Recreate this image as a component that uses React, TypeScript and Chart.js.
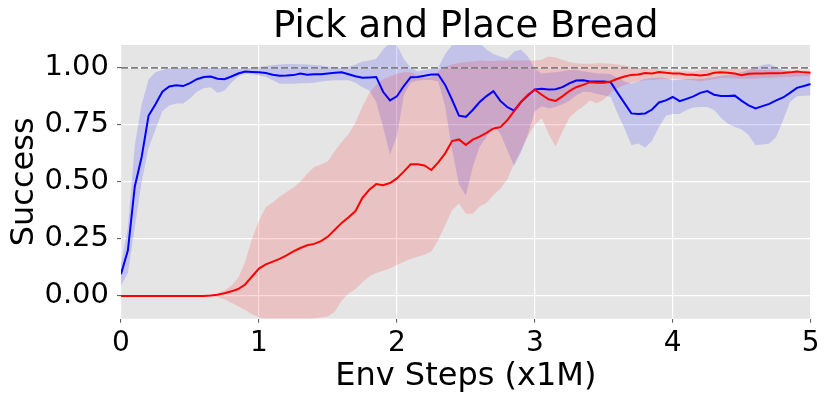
import React, { useEffect, useRef } from 'react';
import { Chart, registerables } from 'chart.js';

Chart.register(...registerables);

const TITLE = 'Pick and Place Bread';
const X_LABEL = 'Env Steps (x1M)';
const Y_LABEL = 'Success';

const X_TICKS = [0, 1, 2, 3, 4, 5];
const Y_TICKS = [0, 0.25, 0.5, 0.75, 1.0];
const TARGET = 1.0;

const STEPS = [
  0, 0.05, 0.1, 0.15, 0.2, 0.25, 0.3, 0.35, 0.4, 0.45,
  0.5, 0.55, 0.6, 0.65, 0.7, 0.75, 0.8, 0.85, 0.9, 0.95,
  1.0, 1.05, 1.1, 1.15, 1.2, 1.25, 1.3, 1.35, 1.4, 1.45,
  1.5, 1.55, 1.6, 1.65, 1.7, 1.75, 1.8, 1.85, 1.9, 1.95,
  2.0, 2.05, 2.1, 2.15, 2.2, 2.25, 2.3, 2.35, 2.4, 2.45,
  2.5, 2.55, 2.6, 2.65, 2.7, 2.75, 2.8, 2.85, 2.9, 2.95,
  3.0, 3.05, 3.1, 3.15, 3.2, 3.25, 3.3, 3.35, 3.4, 3.45,
  3.5, 3.55, 3.6, 3.65, 3.7, 3.75, 3.8, 3.85, 3.9, 3.95,
  4.0, 4.05, 4.1, 4.15, 4.2, 4.25, 4.3, 4.35, 4.4, 4.45,
  4.5, 4.55, 4.6, 4.65, 4.7, 4.75, 4.8, 4.85, 4.9, 4.95,
  5.0,
];

const BLUE_MEAN = [
  0.095, 0.2, 0.48, 0.61, 0.79, 0.84, 0.895, 0.918, 0.923, 0.92,
  0.933, 0.95, 0.96, 0.962, 0.952, 0.95, 0.962, 0.975, 0.984, 0.982,
  0.98, 0.977, 0.97, 0.965, 0.966, 0.968, 0.975, 0.97, 0.972, 0.972,
  0.975, 0.978, 0.98, 0.972, 0.963, 0.956, 0.958, 0.96, 0.895, 0.857,
  0.875, 0.92, 0.959, 0.96, 0.965, 0.971, 0.971, 0.925, 0.86, 0.79,
  0.785, 0.815, 0.85, 0.876, 0.898, 0.855, 0.828, 0.812, 0.85, 0.879,
  0.905, 0.908, 0.905, 0.906, 0.915, 0.932, 0.944, 0.945, 0.94, 0.94,
  0.94, 0.937, 0.89, 0.845, 0.8, 0.797, 0.8, 0.817, 0.848, 0.857,
  0.872, 0.854, 0.864, 0.875, 0.89, 0.898, 0.882, 0.876, 0.876, 0.878,
  0.855, 0.835, 0.822, 0.832, 0.842, 0.857, 0.87, 0.89, 0.912, 0.92,
  0.929,
];

const BLUE_LO = [
  0.044, 0.1, 0.3, 0.5, 0.65, 0.73, 0.81, 0.835, 0.843, 0.843,
  0.865, 0.895, 0.91, 0.915, 0.89, 0.9, 0.935, 0.962, 0.974, 0.972,
  0.966, 0.96, 0.945, 0.93, 0.93, 0.93, 0.932, 0.932, 0.935, 0.94,
  0.943, 0.945, 0.945, 0.945, 0.935, 0.915, 0.9, 0.85, 0.74, 0.62,
  0.7, 0.88, 0.935, 0.944, 0.946, 0.947, 0.94, 0.83, 0.64, 0.49,
  0.44, 0.565, 0.654, 0.697, 0.748, 0.712, 0.64, 0.57, 0.63, 0.71,
  0.81, 0.832, 0.823, 0.828, 0.84, 0.855, 0.88, 0.895, 0.894, 0.885,
  0.88, 0.872, 0.8, 0.735, 0.66, 0.668, 0.651, 0.68, 0.74, 0.79,
  0.797, 0.797, 0.815, 0.826, 0.828, 0.828, 0.815, 0.78, 0.755, 0.74,
  0.73, 0.705, 0.66, 0.664, 0.668, 0.697, 0.77, 0.85, 0.875, 0.877,
  0.879,
];

const BLUE_HI = [
  0.14, 0.3, 0.66, 0.84, 0.95, 0.98, 0.99, 0.998, 1.0, 1.0,
  1.0, 1.0, 1.0, 1.0, 1.0, 1.0, 0.998, 0.995, 0.998, 1.0,
  1.003, 1.008, 1.012, 1.015, 1.017, 1.017, 1.016, 1.014, 1.012, 1.01,
  1.005, 1.003, 1.0, 1.005, 1.015, 1.028, 1.032, 1.04, 1.08, 1.11,
  1.1, 1.04, 1.0, 0.985, 0.99, 0.995, 1.0, 1.06, 1.1, 1.12,
  1.12, 1.12, 1.11, 1.08, 1.06, 1.05, 1.04, 1.07, 1.08, 1.05,
  0.995, 0.975, 0.978, 0.98, 0.985, 0.99, 0.99, 0.985, 0.98, 0.975,
  0.975, 0.972, 0.955, 0.94, 0.93, 0.94, 0.952, 0.955, 0.958, 0.955,
  0.945, 0.948, 0.95, 0.952, 0.952, 0.955, 0.96, 0.965, 0.97, 0.974,
  0.98, 0.99, 1.0, 1.012, 1.017, 1.003, 0.99, 0.98, 0.976, 0.974,
  0.974,
];

const RED_MEAN = [
  0, 0, 0, 0, 0, 0, 0, 0, 0, 0,
  0, 0, 0, 0.002, 0.005, 0.012, 0.02, 0.03, 0.05, 0.085,
  0.12, 0.138, 0.15, 0.162, 0.178, 0.195, 0.21, 0.222, 0.228, 0.24,
  0.26, 0.29, 0.32, 0.345, 0.372, 0.43, 0.465, 0.49, 0.485, 0.495,
  0.515, 0.545, 0.577, 0.577, 0.572, 0.552, 0.585, 0.625, 0.679, 0.686,
  0.662, 0.685, 0.698, 0.715, 0.734, 0.74, 0.77, 0.81, 0.85, 0.882,
  0.904, 0.882, 0.862, 0.855, 0.875, 0.898, 0.915, 0.925, 0.937, 0.935,
  0.935, 0.94, 0.952, 0.962, 0.969, 0.971, 0.977, 0.975, 0.982, 0.978,
  0.975, 0.975, 0.97, 0.97, 0.966, 0.97, 0.978, 0.98, 0.978, 0.975,
  0.968, 0.974, 0.975, 0.975, 0.976, 0.976, 0.977, 0.98, 0.984, 0.98,
  0.978,
];

const RED_LO = [
  0, 0, 0, 0, 0, 0, 0, 0, 0, 0,
  0, 0, 0, -0.002, -0.006, -0.015, -0.03, -0.045, -0.062, -0.08,
  -0.095, -0.11, -0.12, -0.12, -0.11, -0.1, -0.11, -0.11, -0.1, -0.095,
  -0.09, -0.07, -0.02, 0.01, 0.03, 0.06, 0.085, 0.1, 0.11, 0.12,
  0.135, 0.15, 0.162, 0.172, 0.18, 0.195, 0.245, 0.31, 0.375, 0.405,
  0.36, 0.36, 0.392, 0.407, 0.443, 0.47, 0.51, 0.58, 0.64, 0.7,
  0.75, 0.78, 0.71, 0.655, 0.72, 0.78, 0.81, 0.83, 0.857, 0.845,
  0.86, 0.89, 0.91, 0.925, 0.935, 0.94, 0.945, 0.947, 0.95, 0.952,
  0.952, 0.95, 0.947, 0.945, 0.94, 0.945, 0.95, 0.955, 0.955, 0.953,
  0.952, 0.952, 0.952, 0.955, 0.955, 0.957, 0.96, 0.96, 0.962, 0.963,
  0.963,
];

const RED_HI = [
  0, 0, 0, 0, 0, 0, 0, 0, 0, 0,
  0, 0, 0, 0.003, 0.012, 0.025, 0.045, 0.08, 0.15, 0.25,
  0.33, 0.39, 0.41, 0.435, 0.455, 0.475, 0.5, 0.535, 0.565, 0.576,
  0.59, 0.635, 0.675, 0.71, 0.76, 0.83, 0.89, 0.925, 0.95, 0.962,
  0.974, 0.98, 0.98, 0.97, 0.955, 0.96, 0.985, 1.005, 1.015, 1.022,
  1.025, 1.028, 1.032, 1.03, 1.03, 1.032, 1.032, 1.032, 1.032, 1.032,
  1.032, 1.035, 1.05, 1.045, 1.035, 1.025, 1.02, 1.018, 1.018, 1.02,
  1.02, 1.018, 1.015, 1.01, 1.003, 1.0, 0.998, 0.995, 0.993, 0.99,
  0.988, 0.985, 0.985, 0.983, 0.99, 0.993, 0.993, 0.995, 0.995, 0.995,
  0.997, 0.997, 0.993, 0.99, 0.99, 0.988, 0.988, 0.988, 0.988, 0.988,
  0.988,
];

const FONT = '"DejaVu Sans", sans-serif';

function pts(ys: number[]) {
  return STEPS.map((x, i) => ({ x, y: ys[i] }));
}

export default function App() {
  const ref = useRef<HTMLCanvasElement | null>(null);

  useEffect(() => {
    document.body.style.margin = '0';
    const canvas = ref.current;
    if (!canvas) return;

    const bgPlugin = {
      id: 'plotBg',
      beforeDraw(chart: any) {
        const { ctx, chartArea: a } = chart;
        ctx.save();
        ctx.fillStyle = '#E5E5E5';
        ctx.fillRect(a.left, a.top, a.right - a.left, a.bottom - a.top);
        ctx.restore();
      },
    };

    const textPlugin = {
      id: 'texts',
      afterDraw(chart: any) {
        const { ctx, chartArea: a } = chart;
        const cx = (a.left + a.right) / 2;
        const cy = (a.top + a.bottom) / 2;
        ctx.save();
        ctx.fillStyle = '#000';
        ctx.textAlign = 'center';
        ctx.textBaseline = 'alphabetic';
        ctx.font = `37px ${FONT}`;
        ctx.fillText(TITLE, cx, 37);
        ctx.font = `32px ${FONT}`;
        ctx.fillText(X_LABEL, cx, 385);
        ctx.translate(33, cy);
        ctx.rotate(-Math.PI / 2);
        ctx.fillText(Y_LABEL, 0, 0);
        ctx.restore();
      },
    };

    const band = (ys: number[], color: string, fill: any, order: number) => ({
      data: pts(ys),
      fill,
      backgroundColor: color,
      borderColor: 'rgba(0,0,0,0)',
      borderWidth: 0,
      pointRadius: 0,
      tension: 0,
      order,
    });

    const chart = new Chart(canvas, {
      type: 'line',
      data: {
        datasets: [
          band(BLUE_HI, 'rgba(0,0,255,0.15)', '+1', 4),
          band(BLUE_LO, 'rgba(0,0,0,0)', false, 4),
          band(RED_HI, 'rgba(255,0,0,0.15)', '+1', 3),
          band(RED_LO, 'rgba(0,0,0,0)', false, 3),
          {
            data: pts(BLUE_MEAN),
            borderColor: '#0000FF',
            borderWidth: 2,
            pointRadius: 0,
            fill: false,
            tension: 0,
            order: 2,
          },
          {
            data: pts(RED_MEAN),
            borderColor: '#FF0000',
            borderWidth: 2,
            pointRadius: 0,
            fill: false,
            tension: 0,
            order: 1,
          },
          {
            data: [
              { x: X_TICKS[0], y: TARGET },
              { x: X_TICKS[X_TICKS.length - 1], y: TARGET },
            ],
            borderColor: '#808080',
            borderWidth: 1.8,
            borderDash: [7, 3],
            pointRadius: 0,
            fill: false,
            order: 0,
          },
        ] as any,
      },
      options: {
        responsive: false,
        animation: false,
        devicePixelRatio: 1,
        layout: { padding: { top: 45, right: 19.3, left: 0, bottom: 0 } },
        plugins: {
          legend: { display: false },
          tooltip: { enabled: false },
          title: { display: false },
        },
        scales: {
          x: {
            type: 'linear',
            min: 0,
            max: 5,
            afterBuildTicks: (s: any) => {
              s.ticks = X_TICKS.map((v) => ({ value: v }));
            },
            afterFit: (s: any) => {
              s.height = 83.3;
            },
            grid: {
              color: '#FFFFFF',
              lineWidth: 1.2,
              drawTicks: true,
              tickLength: 4,
              tickColor: '#555555',
              tickWidth: 1,
            },
            border: { display: false },
            ticks: {
              color: '#000',
              font: { family: FONT, size: 28 },
              padding: 4,
              maxRotation: 0,
              autoSkip: false,
              callback: (v: any) => String(v),
            },
          },
          y: {
            type: 'linear',
            min: -0.1,
            max: 1.1,
            afterBuildTicks: (s: any) => {
              s.ticks = Y_TICKS.map((v) => ({ value: v }));
            },
            afterFit: (s: any) => {
              s.width = 121;
            },
            grid: {
              color: '#FFFFFF',
              lineWidth: 1.2,
              drawTicks: true,
              tickLength: 4,
              tickColor: '#555555',
              tickWidth: 1,
            },
            border: { display: false },
            ticks: {
              color: '#000',
              font: { family: FONT, size: 29 },
              padding: 8,
              autoSkip: false,
              callback: (v: any) => Number(v).toFixed(2),
            },
          },
        },
      } as any,
      plugins: [bgPlugin, textPlugin],
    });

    return () => chart.destroy();
  }, []);

  return (
    <div style={{ width: 830, height: 402 }}>
      <canvas ref={ref} width={830} height={402} />
    </div>
  );
}
